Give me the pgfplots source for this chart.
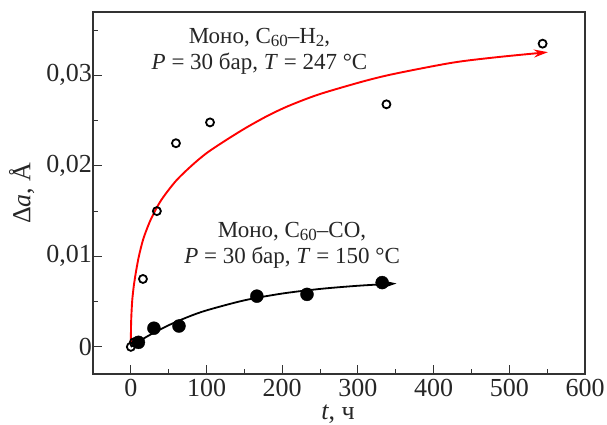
\documentclass[border=0pt]{standalone}
\usepackage{fontspec}
\setmainfont{Liberation Serif}
\usepackage{pgfplots}
\pgfplotsset{compat=1.18}
\usetikzlibrary{arrows.meta}
\newcommand{\sub}[1]{\raisebox{-0.3ex}{\fontsize{17}{17}\selectfont #1}}
\begin{document}
\begin{tikzpicture}
\begin{axis}[
 scale only axis, width=492pt, height=362pt,
 xmin=-50, xmax=600, ymin=-0.003, ymax=0.037,
 xtick={0,100,...,600}, ytick={0,0.01,0.02,0.03},
 minor xtick={50,150,250,350,450,550},
 minor ytick={0.005,0.015,0.025,0.035},
 tick pos=left, tick align=inside,
 major tick length=9pt, minor tick length=5pt,
 scaled y ticks=false,
 yticklabel style={/pgf/number format/.cd, fixed, precision=2, use comma, /tikz/.cd},
 /pgf/number format/assume math mode=true,
 tick label style={font=\fontsize{26}{30}\selectfont, text=black!85},
 yticklabel style={inner xsep=1pt},
 xticklabel style={inner ysep=5pt},
 axis line style={black!80, line width=1.3pt},
 every tick/.style={black!80, line width=1.1pt},
 xlabel={\textit{t}, ч}, ylabel={Δ\textit{a}, Å},
 label style={font=\fontsize{26}{30}\selectfont, text=black!85},
 xlabel style={at={(axis description cs:0.498,-0.112)},anchor=center},
 ylabel style={at={(axis description cs:-0.145,0.5)},anchor=center},
 clip=false,
]
% red fit curve (H2)
\addplot[red, line width=1.9pt, smooth, -{Stealth[length=14pt,width=8pt]}] coordinates {
 (0,0.0005) (0.3,0.0025) (1,0.0040) (2,0.0053) (4,0.0068) (7,0.0084) (10.6,0.0100)
 (16,0.0118) (22,0.0132) (28.2,0.0144) (40,0.0162) (59.2,0.0183) (80,0.0200)
 (100,0.0214) (125,0.0228) (152,0.0242) (180,0.0255) (205,0.0265) (235,0.0275)
 (260,0.0282) (310,0.0294) (350,0.0302) (425,0.0314) (483,0.0320) (551,0.03256)
};
% black fit curve (CO)
\addplot[black, line width=1.8pt, smooth, -{Stealth[length=14pt,width=8pt]}] coordinates {
 (0,0) (10,0.00056) (25,0.00131) (50,0.00239) (75,0.00329) (100,0.00403)
 (150,0.00514) (200,0.00589) (250,0.0064) (300,0.00675) (351,0.0070)
};
% CO data
\addplot[only marks, mark=*, mark size=6.5pt, black] coordinates {
 (10,0.0005) (30.5,0.00206) (63.6,0.0023) (166.5,0.0056) (232.7,0.0058) (332,0.0071)
};
% H2 data
\addplot[only marks, mark=o, mark size=4pt, mark options={black, line width=1.8pt, fill=white}] coordinates {
 (0,0) (4,0.0005) (16,0.0075) (34.4,0.015) (59.6,0.0225) (104.6,0.0248) (337.7,0.0268) (544,0.0335)
};
\node[align=center, font=\fontsize{23}{26}\selectfont, text=black!85] at (axis cs:170,0.0327)
 {Моно, C\sub{60}–H\sub{2},\\\textit{P} = 30 бар, \textit{T} = 247 °C};
\node[align=center, font=\fontsize{23}{26}\selectfont, text=black!85] at (axis cs:213,0.0112)
 {Моно, C\sub{60}–CO,\\\textit{P} = 30 бар, \textit{T} = 150 °C};
\end{axis}
\pgfresetboundingbox
\path[use as bounding box] ([shift={(-93pt,-51pt)}]current axis.south west) rectangle ([shift={(22pt,12pt)}]current axis.north east);
\end{tikzpicture}
\end{document}
